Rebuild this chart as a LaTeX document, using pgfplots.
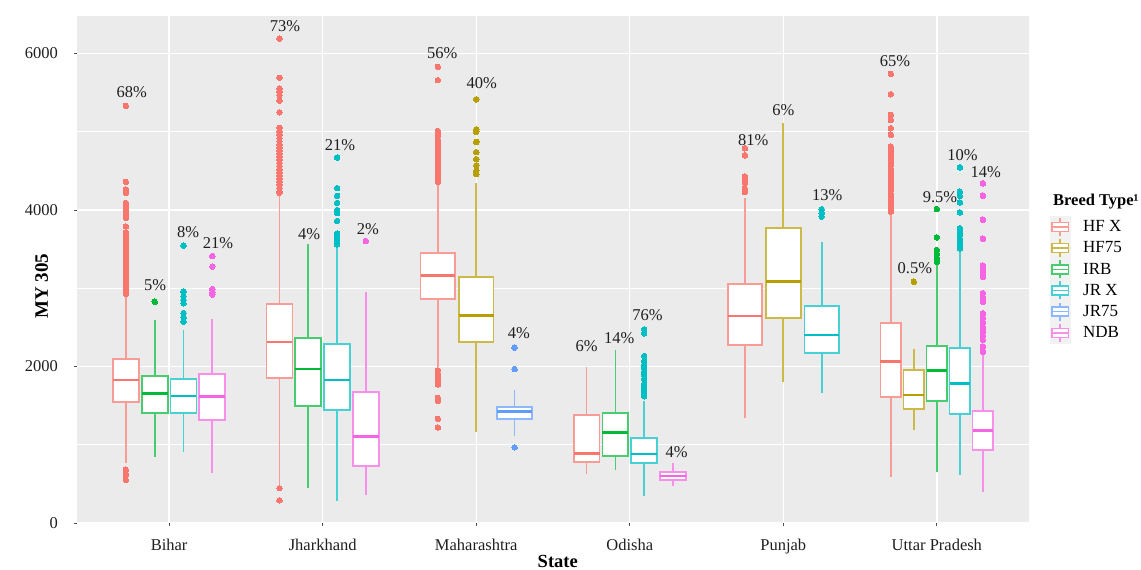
\documentclass[border=0pt]{standalone}
\usepackage{fontspec}
\setmainfont{Liberation Serif}
\usepackage{pgfplots}
\pgfplotsset{compat=1.18}
\usepgfplotslibrary{statistics}
\definecolor{hfx}{HTML}{F8766D}
\definecolor{hfs}{HTML}{B79F00}
\definecolor{irb}{HTML}{00BA38}
\definecolor{jrx}{HTML}{00BFC4}
\definecolor{jrs}{HTML}{619CFF}
\definecolor{ndb}{HTML}{F564E3}
\colorlet{hfxL}{hfx!72!white}
\colorlet{hfsL}{hfs!72!white}
\colorlet{irbL}{irb!72!white}
\colorlet{jrxL}{jrx!72!white}
\colorlet{jrsL}{jrs!72!white}
\colorlet{ndbL}{ndb!72!white}
\definecolor{panel}{HTML}{EBEBEB}
\definecolor{keybg}{HTML}{F2F2F2}
\pgfplotsset{
  bx/.style={forget plot, draw=#1L, fill=white, line width=1.8pt,
    mark=*, mark size=2.8pt, mark options={draw=#1, fill=#1, line width=0pt, solid},
    boxplot/every box/.style={draw=#1L, fill=white, line width=1.8pt},
    boxplot/every whisker/.style={draw=#1L, line width=1.7pt},
    boxplot/every median/.style={draw=#1, line width=2.6pt},
    boxplot/whisker extend=0},
  boxleg/.style={legend image code/.code={
    \fill[keybg] (0pt,-10.4pt) rectangle (20pt,10.4pt);
    \draw[line width=1.5pt] (10pt,-9pt) -- (10pt,9pt);
    \draw[line width=1.5pt, fill=white] (1.7pt,-4.5pt) rectangle (18.3pt,4.5pt);
    \draw[line width=1.5pt] (1.7pt,0pt) -- (18.3pt,0pt);
  }},
}
\tikzset{lbl/.style={font=\fontsize{16.5}{19}\selectfont, text=black!88, inner sep=0pt}}
\begin{document}
\begin{tikzpicture}
\useasboundingbox (-77pt,-47pt) rectangle (1064pt,523pt);
\begin{axis}[
  scale only axis, width=952pt, height=507pt,
  xmin=0.4, xmax=6.6, ymin=0, ymax=6480,
  clip mode=individual,
  axis background/.style={fill=panel},
  axis x line*=bottom, axis y line*=left, axis line style={draw=none},
  xtick={1,2,3,4,5,6},
  xticklabels={Bihar,Jharkhand,Maharashtra,Odisha,Punjab,Uttar Pradesh},
  ytick={0,2000,4000,6000}, minor ytick={1000,3000,5000},
  grid=both,
  major grid style={white, line width=1.4pt},
  minor grid style={white, line width=0.7pt},
  tick align=outside, major tick length=3pt, minor tick length=0pt,
  tick style={black!70, line width=0.8pt},
  /pgf/number format/assume math mode=true,
  /pgf/number format/1000 sep={},
  yticklabel style={font=\fontsize{16.5}{19}\selectfont, text=black!88, anchor=east, inner sep=0pt, xshift=-16pt},
  xticklabel style={font=\fontsize{16.5}{19}\selectfont, text=black!88, anchor=base, inner sep=0pt, yshift=-24pt},
  xlabel={State}, ylabel={MY 305},
  every axis x label/.style={at={(axis description cs:0.505,-0.0868)}, anchor=base, font=\bfseries\fontsize{18.5}{21}\selectfont},
  every axis y label/.style={at={(axis description cs:-0.0371,0.4675)}, rotate=90, anchor=center, font=\bfseries\fontsize{19}{21}\selectfont},
  boxplot/draw direction=y,
  legend style={at={(1.0221,0.605)}, anchor=north west, draw=none, fill=none,
    inner sep=0pt, outer sep=0pt, row sep=0pt, column sep=12.7pt,
    font=\fontsize{17}{19}\selectfont, nodes={inner sep=0pt, outer sep=0pt}},
  legend cell align=left,
]
% ---------------- Bihar ----------------
\addplot[bx=hfx, boxplot prepared={draw position=0.71875, box extend=0.16875,
  lower whisker=763, lower quartile=1550, median=1828, upper quartile=2092, upper whisker=2905}]
  table[row sep=\\, y index=0] {data\\ 5330\\ 4360\\ 4260\\ 4220\\ 4090\\ 4050\\ 4010\\ 3970\\ 3930\\ 3900\\ 3790\\ 3710\\ 3680\\ 3640\\ 3600\\ 3560\\ 3520\\ 3480\\ 3440\\ 3400\\ 3360\\ 3320\\ 3280\\ 3240\\ 3200\\ 3160\\ 3120\\ 3080\\ 3040\\ 3000\\ 2960\\ 2930\\ 680\\ 620\\ 550\\};
\addplot[bx=irb, boxplot prepared={draw position=0.90625, box extend=0.16875,
  lower whisker=847, lower quartile=1402, median=1657, upper quartile=1883, upper whisker=2594}]
  table[row sep=\\, y index=0] {data\\ 2828\\};
\addplot[bx=jrx, boxplot prepared={draw position=1.09375, box extend=0.16875,
  lower whisker=911, lower quartile=1402, median=1623, upper quartile=1836, upper whisker=2466}]
  table[row sep=\\, y index=0] {data\\ 3544\\ 2956\\ 2900\\ 2850\\ 2808\\ 2683\\ 2630\\ 2573\\};
\addplot[bx=ndb, boxplot prepared={draw position=1.28125, box extend=0.16875,
  lower whisker=635, lower quartile=1316, median=1614, upper quartile=1904, upper whisker=2603}]
  table[row sep=\\, y index=0] {data\\ 3412\\ 3276\\ 2990\\ 2950\\ 2920\\};
% ---------------- Jharkhand ----------------
\addplot[bx=hfx, boxplot prepared={draw position=1.71875, box extend=0.16875,
  lower whisker=480, lower quartile=1857, median=2313, upper quartile=2795, upper whisker=4200}]
  table[row sep=\\, y index=0] {data\\ 6190\\ 5690\\ 5550\\ 5510\\ 5470\\ 5400\\ 5250\\ 5050\\ 5000\\ 4960\\ 4920\\ 4880\\ 4840\\ 4800\\ 4760\\ 4720\\ 4680\\ 4640\\ 4600\\ 4560\\ 4520\\ 4480\\ 4440\\ 4400\\ 4360\\ 4320\\ 4280\\ 4240\\ 4220\\ 445\\ 290\\};
\addplot[bx=irb, boxplot prepared={draw position=1.90625, box extend=0.16875,
  lower whisker=443, lower quartile=1499, median=1968, upper quartile=2360, upper whisker=3570}]
  coordinates {};
\addplot[bx=jrx, boxplot prepared={draw position=2.09375, box extend=0.16875,
  lower whisker=281, lower quartile=1444, median=1828, upper quartile=2284, upper whisker=3540}]
  table[row sep=\\, y index=0] {data\\ 4670\\ 4280\\ 4180\\ 4090\\ 4000\\ 3960\\ 3860\\ 3700\\ 3660\\ 3620\\ 3590\\ 3560\\};
\addplot[bx=ndb, boxplot prepared={draw position=2.28125, box extend=0.16875,
  lower whisker=358, lower quartile=732, median=1103, upper quartile=1670, upper whisker=2956}]
  table[row sep=\\, y index=0] {data\\ 3604\\};
% ---------------- Maharashtra ----------------
\addplot[bx=hfx, boxplot prepared={draw position=2.75, box extend=0.225,
  lower whisker=1990, lower quartile=2859, median=3165, upper quartile=3454, upper whisker=4340}]
  table[row sep=\\, y index=0] {data\\ 5830\\ 5660\\ 5010\\ 4980\\ 4950\\ 4900\\ 4860\\ 4820\\ 4780\\ 4740\\ 4700\\ 4660\\ 4620\\ 4580\\ 4540\\ 4500\\ 4460\\ 4420\\ 4380\\ 4360\\ 1950\\ 1910\\ 1870\\ 1830\\ 1790\\ 1770\\ 1600\\ 1560\\ 1330\\ 1220\\};
\addplot[bx=hfs, boxplot prepared={draw position=3.0, box extend=0.225,
  lower whisker=1167, lower quartile=2313, median=2650, upper quartile=3148, upper whisker=4340}]
  table[row sep=\\, y index=0] {data\\ 5415\\ 5030\\ 5000\\ 4870\\ 4740\\ 4650\\ 4570\\ 4500\\ 4460\\};
\addplot[bx=jrs, boxplot prepared={draw position=3.25, box extend=0.225,
  lower whisker=1112, lower quartile=1325, median=1423, upper quartile=1487, upper whisker=1700}]
  table[row sep=\\, y index=0] {data\\ 2240\\ 1968\\ 967\\};
% ---------------- Odisha ----------------
\addplot[bx=hfx, boxplot prepared={draw position=3.71875, box extend=0.16875,
  lower whisker=626, lower quartile=780, median=891, upper quartile=1380, upper whisker=1990}]
  coordinates {};
\addplot[bx=irb, boxplot prepared={draw position=3.90625, box extend=0.16875,
  lower whisker=677, lower quartile=856, median=1154, upper quartile=1402, upper whisker=2211}]
  coordinates {};
\addplot[bx=jrx, boxplot prepared={draw position=4.09375, box extend=0.16875,
  lower whisker=345, lower quartile=763, median=882, upper quartile=1090, upper whisker=1560}]
  table[row sep=\\, y index=0] {data\\ 2475\\ 2424\\ 2134\\ 2070\\ 2020\\ 1980\\ 1930\\ 1890\\ 1840\\ 1780\\ 1740\\ 1700\\ 1660\\ 1620\\};
\addplot[bx=ndb, boxplot prepared={draw position=4.28125, box extend=0.16875,
  lower whisker=473, lower quartile=550, median=600, upper quartile=648, upper whisker=763}]
  coordinates {};
% ---------------- Punjab ----------------
\addplot[bx=hfx, boxplot prepared={draw position=4.75, box extend=0.225,
  lower whisker=1338, lower quartile=2271, median=2645, upper quartile=3050, upper whisker=4150}]
  table[row sep=\\, y index=0] {data\\ 4790\\ 4700\\ 4430\\ 4390\\ 4350\\ 4270\\ 4230\\};
\addplot[bx=hfs, boxplot prepared={draw position=5.0, box extend=0.225,
  lower whisker=1806, lower quartile=2616, median=3084, upper quartile=3774, upper whisker=5108}]
  coordinates {};
\addplot[bx=jrx, boxplot prepared={draw position=5.25, box extend=0.225,
  lower whisker=1657, lower quartile=2169, median=2403, upper quartile=2773, upper whisker=3595}]
  table[row sep=\\, y index=0] {data\\ 4010\\ 3960\\ 3915\\};
% ---------------- Uttar Pradesh ----------------
\addplot[bx=hfx, boxplot prepared={draw position=5.7, box extend=0.135,
  lower whisker=592, lower quartile=1614, median=2062, upper quartile=2560, upper whisker=3970}]
  table[row sep=\\, y index=0] {data\\ 5740\\ 5480\\ 5215\\ 5150\\ 5045\\ 4960\\ 4810\\ 4770\\ 4730\\ 4690\\ 4650\\ 4610\\ 4570\\ 4530\\ 4490\\ 4450\\ 4410\\ 4370\\ 4330\\ 4290\\ 4250\\ 4210\\ 4170\\ 4130\\ 4090\\ 4050\\ 4010\\ 3980\\};
\addplot[bx=hfs, boxplot prepared={draw position=5.85, box extend=0.135,
  lower whisker=1189, lower quartile=1453, median=1636, upper quartile=1955, upper whisker=2220}]
  table[row sep=\\, y index=0] {data\\ 3084\\};
\addplot[bx=irb, boxplot prepared={draw position=6.0, box extend=0.135,
  lower whisker=656, lower quartile=1563, median=1946, upper quartile=2266, upper whisker=3300}]
  table[row sep=\\, y index=0] {data\\ 4013\\ 3651\\ 3489\\ 3440\\ 3380\\ 3339\\};
\addplot[bx=jrx, boxplot prepared={draw position=6.15, box extend=0.135,
  lower whisker=613, lower quartile=1389, median=1785, upper quartile=2232, upper whisker=3480}]
  table[row sep=\\, y index=0] {data\\ 4546\\ 4234\\ 4180\\ 4098\\ 3970\\ 3766\\ 3720\\ 3680\\ 3630\\ 3595\\ 3550\\ 3510\\};
\addplot[bx=ndb, boxplot prepared={draw position=6.3, box extend=0.135,
  lower whisker=392, lower quartile=933, median=1180, upper quartile=1435, upper whisker=2170}]
  table[row sep=\\, y index=0] {data\\ 4341\\ 4183\\ 3876\\ 3634\\ 3289\\ 3240\\ 3190\\ 3148\\ 2939\\ 2880\\ 2828\\ 2680\\ 2620\\ 2560\\ 2500\\ 2450\\ 2390\\ 2339\\ 2253\\ 2189\\};
% ---------------- percentage labels ----------------
\node[lbl] at (axis cs:0.757,5508) {68\%};
\node[lbl] at (axis cs:0.909,3042) {5\%};
\node[lbl] at (axis cs:1.124,3723) {8\%};
\node[lbl] at (axis cs:1.319,3575) {21\%};
\node[lbl] at (axis cs:1.755,6352) {73\%};
\node[lbl] at (axis cs:1.911,3693) {4\%};
\node[lbl] at (axis cs:2.113,4831) {21\%};
\node[lbl] at (axis cs:2.294,3753) {2\%};
\node[lbl] at (axis cs:2.779,6011) {56\%};
\node[lbl] at (axis cs:3.036,5627) {40\%};
\node[lbl] at (axis cs:3.277,2424) {4\%};
\node[lbl] at (axis cs:3.719,2262) {6\%};
\node[lbl] at (axis cs:3.932,2360) {14\%};
\node[lbl] at (axis cs:4.116,2658) {76\%};
\node[lbl] at (axis cs:4.305,911) {4\%};
\node[lbl] at (axis cs:4.804,4895) {81\%};
\node[lbl] at (axis cs:5.000,5278) {6\%};
\node[lbl] at (axis cs:5.286,4192) {13\%};
\node[lbl] at (axis cs:5.727,5908) {65\%};
\node[lbl] at (axis cs:5.857,3255) {0.5\%};
\node[lbl] at (axis cs:6.020,4170) {9.5\%};
\node[lbl] at (axis cs:6.167,4703) {10\%};
\node[lbl] at (axis cs:6.319,4482) {14\%};
% ---------------- legend ----------------
\addlegendimage{boxleg, draw=hfxL}\addlegendentry{HF X}
\addlegendimage{boxleg, draw=hfsL}\addlegendentry{HF75}
\addlegendimage{boxleg, draw=irbL}\addlegendentry{IRB}
\addlegendimage{boxleg, draw=jrxL}\addlegendentry{JR X}
\addlegendimage{boxleg, draw=jrsL}\addlegendentry{JR75}
\addlegendimage{boxleg, draw=ndbL}\addlegendentry{NDB}
\node[anchor=west, inner sep=0pt, font=\bfseries\fontsize{16.5}{19}\selectfont] at (rel axis cs:1.0252,0.6337) {Breed Type¹};
\end{axis}
\end{tikzpicture}
\end{document}
